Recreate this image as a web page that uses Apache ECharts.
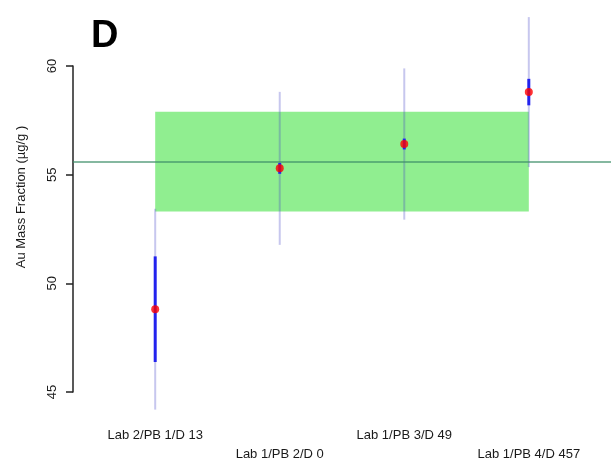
<!DOCTYPE html>
<html>
<head>
<meta charset="utf-8">
<script src="https://cdn.jsdelivr.net/npm/echarts@6/dist/echarts.min.js"></script>
<style>
  html, body { margin: 0; padding: 0; background: #fff; }
  #chart { width: 613px; height: 466px; }
</style>
</head>
<body>
<div id="chart"></div>
<script>
// Laboratory / sample labels along the x axis
const sampleLabels = ['Lab 2/PB 1/D 13', 'Lab 1/PB 2/D 0', 'Lab 1/PB 3/D 49', 'Lab 1/PB 4/D 457'];
// Measured Au mass fraction (µg/g) per sample
const meanValues = [48.81, 55.29, 56.41, 58.80];
// Half-width of the inner (dark blue) uncertainty bar
const innerHalfWidth = [2.43, 0.25, 0.25, 0.61];
// Half-width of the outer (light) uncertainty bar
const outerHalfWidth = [4.62, 3.52, 3.48, 3.45];
// Consensus value and its uncertainty band
const consensusValue = 55.6;
const consensusHalfWidth = 2.3;
// y axis tick range
const yTickMin = 45;
const yTickMax = 60;
const yTickStep = 5;

const FONT = 'Liberation Sans, Arial, Helvetica, sans-serif';
const xs = sampleLabels.map((_, i) => i + 1);

const barData = xs.map((x, i) => [x, meanValues[i], innerHalfWidth[i], outerHalfWidth[i]]);
const pointData = xs.map((x, i) => [x, meanValues[i]]);

function renderBars(params, api) {
  const x = api.value(0), m = api.value(1), inner = api.value(2), outer = api.value(3);
  const oTop = api.coord([x, m + outer]);
  const oBot = api.coord([x, m - outer]);
  const iTop = api.coord([x, m + inner]);
  const iBot = api.coord([x, m - inner]);
  return {
    type: 'group',
    children: [
      { type: 'line', shape: { x1: oTop[0], y1: oTop[1], x2: oBot[0], y2: oBot[1] },
        style: { stroke: 'rgba(70,70,200,0.3)', lineWidth: 2 } },
      { type: 'line', shape: { x1: iTop[0], y1: iTop[1], x2: iBot[0], y2: iBot[1] },
        style: { stroke: '#2222ee', lineWidth: 3 } }
    ]
  };
}

const xBase = { type: 'value', min: 0.34, max: 4.66, position: 'bottom',
  axisLine: { show: false }, axisTick: { show: false }, splitLine: { show: false } };

const chart = echarts.init(document.getElementById('chart'), null, { renderer: 'canvas' });
chart.setOption({
  animation: false,
  backgroundColor: '#ffffff',
  title: {
    text: 'D', left: 86, top: 13,
    textStyle: { fontFamily: FONT, fontSize: 38, fontWeight: 'bold', color: '#000' }
  },
  graphic: [{
    type: 'text', x: 21, y: 197, rotation: Math.PI / 2,
    style: { text: 'Au Mass Fraction (µg/g )', fontFamily: FONT, fontSize: 13, fill: '#1a1a1a',
      align: 'center', verticalAlign: 'middle' }
  }],
  grid: { left: 73, right: 2, top: 66, bottom: 74 },
  xAxis: [
    Object.assign({}, xBase, {
      axisLabel: { customValues: [1, 3], margin: 37, fontFamily: FONT, fontSize: 13, color: '#1a1a1a',
        formatter: v => sampleLabels[Math.round(v) - 1] }
    }),
    Object.assign({}, xBase, {
      axisLabel: { customValues: [2, 4], margin: 56, fontFamily: FONT, fontSize: 13, color: '#1a1a1a',
        formatter: v => sampleLabels[Math.round(v) - 1] }
    })
  ],
  yAxis: {
    type: 'value', min: yTickMin, max: yTickMax, interval: yTickStep,
    axisLine: { show: true, lineStyle: { color: '#222', width: 1.5 } },
    axisTick: { show: true, length: 7, lineStyle: { color: '#222', width: 1.5 } },
    axisLabel: { rotate: 90, margin: 14, fontFamily: FONT, fontSize: 13, color: '#1a1a1a' },
    splitLine: { show: false }
  },
  series: [
    {
      type: 'line', data: [], silent: true,
      markArea: {
        silent: true,
        itemStyle: { color: '#90ee90' },
        data: [[
          { xAxis: 1, yAxis: consensusValue + consensusHalfWidth },
          { xAxis: 4, yAxis: consensusValue - consensusHalfWidth }
        ]]
      },
      markLine: {
        silent: true, symbol: 'none', label: { show: false },
        lineStyle: { color: '#3f8f6a', width: 1.6, type: 'solid', opacity: 0.85 },
        data: [{ yAxis: consensusValue }]
      }
    },
    {
      type: 'custom', data: barData, clip: false, silent: true,
      renderItem: renderBars, z: 3
    },
    {
      type: 'scatter', data: pointData, symbol: 'circle', symbolSize: 8, clip: false,
      itemStyle: { color: '#ff0000' }, z: 4
    }
  ]
});
</script>
</body>
</html>
